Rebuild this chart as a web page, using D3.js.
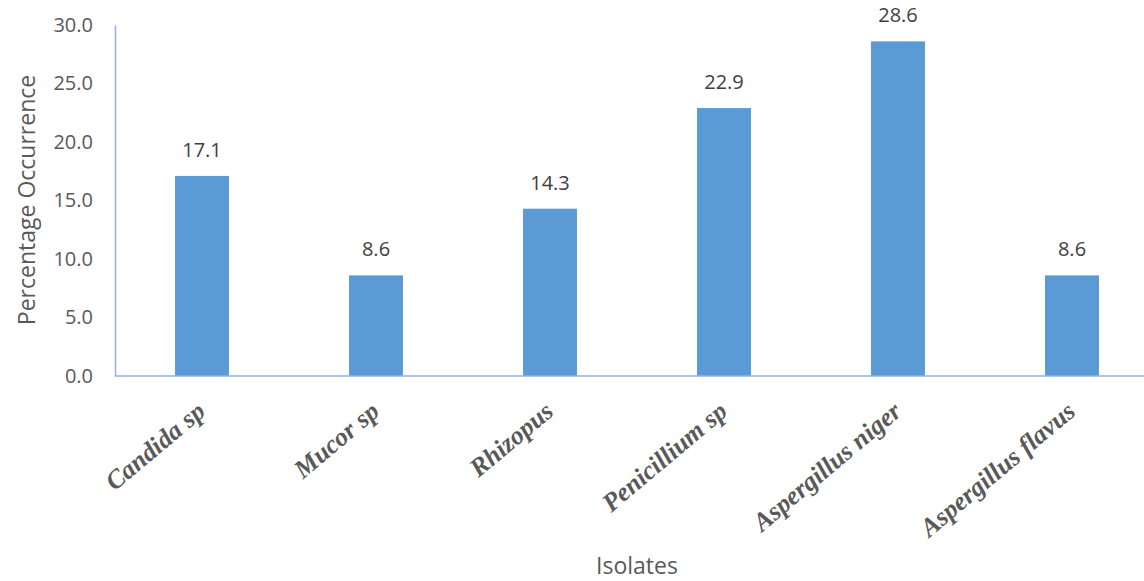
<!DOCTYPE html>
<html>
<head>
<meta charset="utf-8">
<script src="https://cdn.jsdelivr.net/npm/d3@7"></script>
<style>
  html, body { margin: 0; padding: 0; background: #fff; }
  svg { display: block; }
</style>
</head>
<body>
<svg id="chart" width="1144" height="581"></svg>
<script>
// Occurrence of fungal isolates (%)
const isolates = ["Candida sp", "Mucor sp", "Rhizopus", "Penicillium sp", "Aspergillus niger", "Aspergillus flavus"];
const occurrence = [17.1, 8.6, 14.3, 22.9, 28.6, 8.6];
const yTicks = [0, 5, 10, 15, 20, 25, 30];

const svg = d3.select("#chart");
const plotLeft = 115, plotTop = 25, plotBottom = 376, bandStep = 174;
const sans = "'Open Sans', sans-serif";
const grey = "#595959";

const x = d3.scaleBand()
  .domain(isolates)
  .range([plotLeft, plotLeft + bandStep * isolates.length])
  .paddingInner(0.69)
  .paddingOuter(0.345);

const y = d3.scaleLinear().domain([0, 30]).range([plotBottom, plotTop]);

// Bars
svg.append("g").selectAll("rect")
  .data(isolates)
  .join("rect")
  .attr("x", d => x(d))
  .attr("width", x.bandwidth())
  .attr("y", (d, i) => y(occurrence[i]))
  .attr("height", (d, i) => y(0) - y(occurrence[i]))
  .attr("fill", "#5b9bd5");

// Value labels
svg.append("g").selectAll("text")
  .data(isolates)
  .join("text")
  .attr("x", d => x(d) + x.bandwidth() / 2)
  .attr("y", (d, i) => y(occurrence[i]) - 19)
  .attr("text-anchor", "middle")
  .attr("font-family", sans)
  .attr("font-size", 20)
  .attr("fill", "#404040")
  .text((d, i) => occurrence[i].toFixed(1));

// Y axis
const yAxis = svg.append("g")
  .attr("transform", `translate(${plotLeft},0)`)
  .call(d3.axisLeft(y).tickValues(yTicks).tickFormat(d3.format(".1f")).tickSize(0).tickPadding(22));
yAxis.select(".domain").attr("stroke", "#8db3e2").attr("stroke-width", 1.5);
yAxis.selectAll("text")
  .attr("font-family", sans)
  .attr("font-size", 20)
  .attr("fill", grey);

// X axis line
svg.append("line")
  .attr("x1", plotLeft).attr("x2", 1144)
  .attr("y1", y(0)).attr("y2", y(0))
  .attr("stroke", "#8db3e2").attr("stroke-width", 1.5);

// Category labels, slanted and ending under each bar
svg.append("g").selectAll("text")
  .data(isolates)
  .join("text")
  .attr("transform", d => `translate(${x(d) + x.bandwidth() / 2 + 5},${plotBottom + 38}) rotate(-40)`)
  .attr("text-anchor", "end")
  .attr("font-family", "'Liberation Serif', 'Times New Roman', serif")
  .attr("font-style", "italic")
  .attr("font-weight", "bold")
  .attr("font-size", 26)
  .attr("fill", grey)
  .text(d => d);

// Axis titles
svg.append("text")
  .attr("transform", `translate(35,200) rotate(-90)`)
  .attr("text-anchor", "middle")
  .attr("font-family", sans)
  .attr("font-size", 23)
  .attr("fill", grey)
  .text("Percentage Occurrence");

svg.append("text")
  .attr("x", 637)
  .attr("y", 574)
  .attr("text-anchor", "middle")
  .attr("font-family", sans)
  .attr("font-size", 23)
  .attr("fill", grey)
  .text("Isolates");
</script>
</body>
</html>
